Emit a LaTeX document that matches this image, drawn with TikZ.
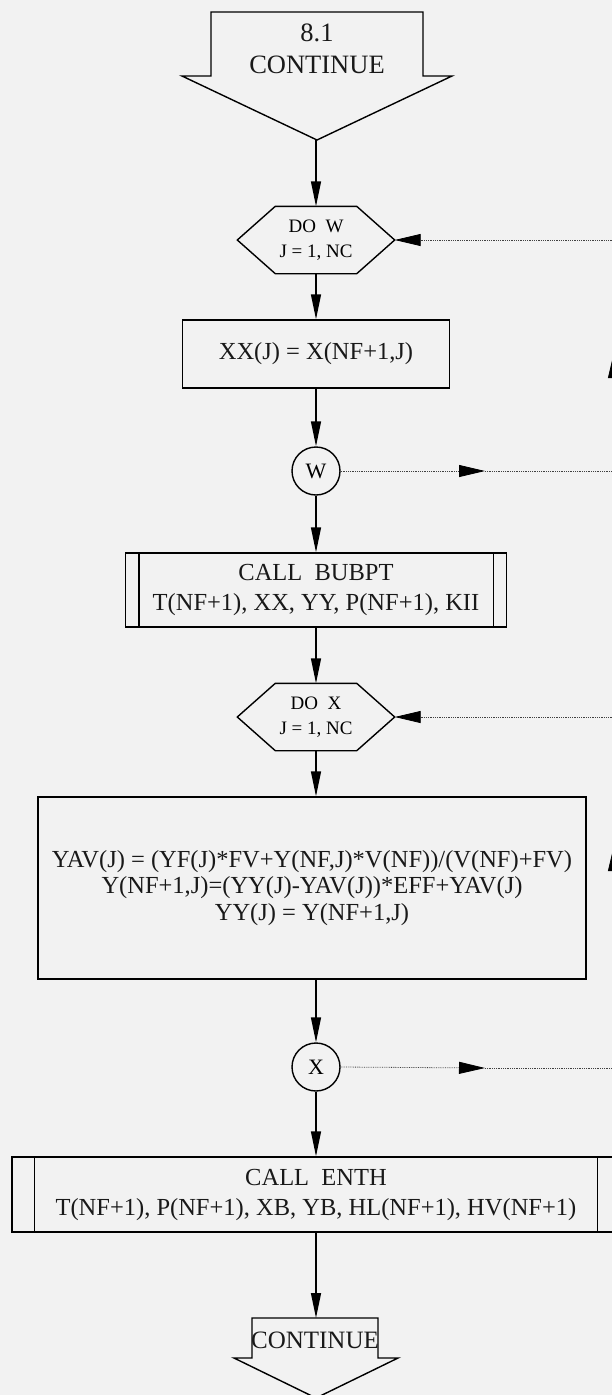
\documentclass[tikz,border=0pt]{standalone}
\usepackage{fontspec}
\setmainfont{Liberation Serif}
\usepackage{tikz}
\usetikzlibrary{arrows.meta,positioning}

\tikzset{
  flow/.style={line width=1.4pt,-{Triangle[length=25pt,width=10pt]}},
  loopline/.style={line width=0.8pt,densely dotted,black!75},
  looptip/.style={loopline,-{Triangle[length=26pt,width=12pt,color=black]}},
  txt/.style={font=\fontsize{24.5}{30}\selectfont,align=center,text=black!90},
  procbox/.style={txt,draw,line width=1.4pt,inner sep=0pt},
  dobox/.style={font=\fontsize{19}{25}\selectfont,align=center,minimum width=157pt,minimum height=67pt,inner sep=0pt},
  joint/.style={circle,draw,line width=1.4pt,minimum size=48pt,inner sep=0pt,font=\fontsize{22}{24}\selectfont}
}

\begin{document}
\begin{tikzpicture}[x=1pt,y=-1pt]
        \useasboundingbox (0,0) rectangle (612,1395);
        \fill[black!5] (0,0) rectangle (612,1395);
        % entry connector
        \draw[line width=1.4pt] (211,12) -- (423,12) -- (423,76) -- (452,76) -- (317,140) -- (182,76) -- (211,76) -- cycle;
        \node[txt,font=\fontsize{26.5}{32}\selectfont] (start) at (317,49) {8.1\\CONTINUE};
        \coordinate (tip1) at (316,140);
        % loop W
        \node[dobox] (dow) at (316,240) {DO~~W\\J = 1, NC};
        \node[procbox,minimum width=267pt,minimum height=68pt] (xx) at (316,354) {XX(J) = X(NF+1,J)};
        \node[joint] (w) at (316,471) {W};
        \node[procbox,minimum width=381pt,minimum height=74pt] (bubpt) at (316,590) {CALL~~BUBPT\\T(NF+1), XX, YY, P(NF+1), KII};
        % loop X
        \node[dobox] (dox) at (316,717) {DO~~X\\J = 1, NC};
        \node[procbox,minimum width=548pt,minimum height=182pt,font=\fontsize{24.5}{26.5}\selectfont] (yav) at (312,888)
          {YAV(J) = (YF(J)*FV+Y(NF,J)*V(NF))/(V(NF)+FV)\\Y(NF+1,J)=(YY(J)-YAV(J))*EFF+YAV(J)\\YY(J) = Y(NF+1,J)};
        \node[joint] (x) at (316,1067) {X};
        \node[procbox,minimum width=608pt,minimum height=75pt] (enth) at (316,1194.5) {CALL~~ENTH\\T(NF+1), P(NF+1), XB, YB, HL(NF+1), HV(NF+1)};
        % hexagons and subroutine bars
        \foreach \h in {dow,dox}{\draw[line width=1.4pt] (\h.west) -- ([xshift=38]\h.north west) -- ([xshift=-38]\h.north east) -- (\h.east) -- ([xshift=-38]\h.south east) -- ([xshift=38]\h.south west) -- cycle;}
        \foreach \c/\d in {bubpt/14,enth/23}{
          \draw[line width=1.4pt] ([xshift=\d]\c.north west) -- ([xshift=\d]\c.south west);
          \draw[line width=1.4pt] ([xshift=-\d]\c.north east) -- ([xshift=-\d]\c.south east);}
        % exit connector
        \draw[line width=1.4pt] (252,1318) -- (378,1318) -- (378,1358) -- (398,1358) -- (316,1398) -- (234,1358) -- (252,1358) -- cycle;
        \node[txt,font=\fontsize{25}{28}\selectfont] (stop) at (315,1340) {CONTINUE};
        \coordinate (top2) at (316,1318);
        % main flow
        \draw[flow] (tip1) -- (dow.north);
        \draw[flow] (dow.south) -- (xx.north);
        \draw[flow] (xx.south) -- (w.north);
        \draw[flow] (w.south) -- (bubpt.north);
        \draw[flow] (bubpt.south) -- (dox.north);
        \draw[flow] (dox.south) -- (yav.north -| dox.south);
        \draw[flow] (yav.south -| x.north) -- (x.north);
        \draw[flow] (x.south) -- (enth.north);
        \draw[flow] (enth.south) -- (top2);
        % loop returns, running off the right edge
        \coordinate (wr) at (614,471);
        \coordinate (wm) at (485,471);
        \coordinate (wu) at (614,352);
        \coordinate (wl) at (614,240);
        \draw[looptip] (w.east) -- (wm);
        \draw[loopline] (wm) -- (wr);
        \draw[looptip] (wr) -- (wu);
        \draw[loopline] (wu) -- (wl);
        \draw[looptip] (wl) -- (dow.east);
        \coordinate (xr) at (614,1068);
        \coordinate (xm) at (485,1068);
        \coordinate (xu) at (614,845);
        \coordinate (xl) at (614,717);
        \draw[looptip] (x.east) -- (xm);
        \draw[loopline] (xm) -- (xr);
        \draw[looptip] (xr) -- (xu);
        \draw[loopline] (xu) -- (xl);
        \draw[looptip] (xl) -- (dox.east);
\end{tikzpicture}
\end{document}
